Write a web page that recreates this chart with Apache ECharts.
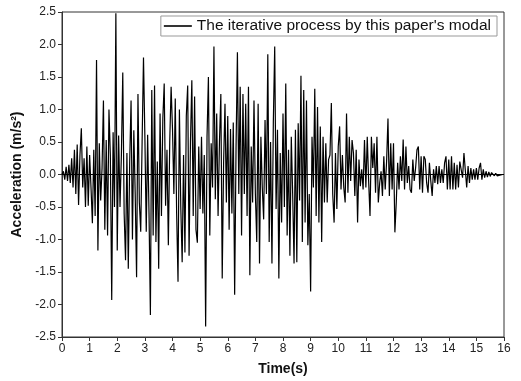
<!DOCTYPE html>
<html>
<head>
<meta charset="utf-8">
<script src="https://cdn.jsdelivr.net/npm/echarts@6/dist/echarts.min.js"></script>
<style>html,body{margin:0;padding:0;background:#fff}#c{width:521px;height:381px}</style>
</head>
<body>
<div id="c"></div>
<script>
// sampling step of the record (s)
const timeStep = 0.05;
// acceleration (m/s^2), 0 s - 3.95 s
const accel0to4 = [
  0, 0.05, -0.08, 0.12, -0.1, 0.15, -0.13, 0.25, -0.2, 0.38, -0.3, 0.46, -0.47, 0.3, 0.71, -0.2, 0.25, -0.5, 0.43, -0.48,
  0.3, -0.2, -0.75, 0.38, -0.64, 1.76, -1.17, 0.48, -0.4, 0.1, 1.14, -0.85, 0.53, -0.94, 1.0, 0.3, -1.93, 0.65, -0.5, 2.48,
  -1.17, 0.6, -0.5, 0.3, 1.57, -0.6, -1.32, 0.33, -1.45, 0.18, 1.14, -1.0, 0.68, -0.3, -1.58, 1.24, -0.43, -0.88, 0.5, 1.8,
  0.58, -0.88, 0.61, -0.6, -2.16, 1.3, -0.94, 1.37, -1.04, 0.2, -1.45, 0.94, -0.64, 0.86, 1.4, -0.48, 0.38, -1.09, 0.5, 1.35
];
// 4 s - 7.95 s
const accel4to8 = [
  0.7, -0.3, 1.17, -0.6, -1.65, 1.0, -0.5, -1.35, 0.3, -1.2, 0.9, 1.37, -1.25, 0.5, 1.45, -0.64, 1.2, -0.85, -1.05, 0.43,
  -0.53, 0.58, -0.6, 0.3, -2.34, 0.58, 1.5, -0.94, 0.48, -0.2, 1.97, -0.38, 0.94, -0.64, 0.5, 1.24, -1.6, 0.18, 1.09, -0.43,
  0.9, -0.85, 0.7, -0.6, 0.8, -1.85, 0.4, 1.88, -0.3, 1.35, -0.94, 1.24, -0.3, 1.09, -0.64, 1.35, -1.55, 0.43, -0.43, 1.14,
  -0.3, -1.04, 1.09, -1.37, 0.58, -0.2, -0.69, 0.84, -0.3, 1.85, -1.04, 0.5, -1.37, 0.8, 1.97, -0.53, 0.69, -1.6, 0.33, -0.74
];
// 8 s - 11.95 s
const accel8to12 = [
  0.94, -0.5, 1.4, -0.94, 0.38, -1.25, 0.58, -0.3, -1.37, 0.69, -1.35, 0.79, -0.4, 1.52, -1.04, 1.3, -0.74, 1.14, -1.09, -0.3,
  -1.8, 0.58, -0.2, 1.32, -0.64, 1.04, -0.74, 0.74, -1.04, 0.58, -0.43, 0.48, -0.43, 0.23, 0.3, 1.1, -0.3, -0.74, 0.33, -0.53,
  0.43, 0.74, -0.23, 0.3, -0.2, -0.43, 0.94, -0.28, 0.58, -0.1, 0.53, 0.33, -0.33, 0.38, -0.74, 0.23, -0.18, 0.08, -0.23, 0.53,
  -0.2, 0.58, -0.1, -0.64, 0.58, 0.1, 0.48, -0.28, 0.58, -0.43, -0.13, 0.05, -0.33, 0.28, -0.23, 0.2, 0.86, -0.33, 0.48, -0.23
];
// 12 s - 16 s
const accel12to16 = [
  0.48, -0.89, -0.43, 0.18, -0.23, 0.28, -0.1, 0.54, -0.23, 0.43, -0.13, 0.13, -0.23, -0.28, 0.23, -0.1, 0.1, 0.38, 0.43, -0.23,
  0.28, -0.28, 0.28, 0.23, -0.13, -0.28, 0.18, -0.1, -0.33, 0.08, -0.13, 0.13, -0.15, 0.13, -0.13, 0.08, -0.13, 0.18, 0.28, -0.23,
  0.23, -0.23, 0.28, -0.23, 0.18, -0.23, 0.15, -0.2, 0.2, 0.18, -0.05, 0.33, 0.36, -0.2, 0.13, -0.13, 0.1, -0.08, 0.08, -0.08,
  0.1, -0.08, 0.1, 0.18, -0.08, 0.08, -0.05, 0.05, -0.04, 0.04, -0.03, 0.03, 0.02, -0.02, 0.02, -0.02, 0.01, -0.01, 0.01, 0, 0
];
const seriesName = "The iterative process by this paper's modal";
const xTicks = {min: 0, max: 16, interval: 1};
const yTicks = {min: -2.5, max: 2.5, interval: 0.5};

const accel = [].concat(accel0to4, accel4to8, accel8to12, accel12to16);
const points = accel.map((v, i) => [Math.round(i * timeStep * 100) / 100, v]);

const font = 'Arial, "Liberation Sans", sans-serif';
const chart = echarts.init(document.getElementById('c'), null, {renderer: 'canvas'});
chart.setOption({
  animation: false,
  backgroundColor: '#fff',
  textStyle: {fontFamily: font},
  grid: {left: 62, right: 17, top: 12, bottom: 40, show: true, borderColor: '#333', borderWidth: 1, backgroundColor: 'transparent'},
  legend: {
    right: 24, top: 16, padding: [2, 6, 2, 3],
    borderColor: '#999', borderWidth: 1, backgroundColor: '#fff',
    icon: 'rect', itemWidth: 28, itemHeight: 1.6, itemGap: 4,
    textStyle: {fontFamily: font, fontSize: 15.5, color: '#111'},
    data: [seriesName]
  },
  xAxis: {
    type: 'value', min: xTicks.min, max: xTicks.max, interval: xTicks.interval,
    name: 'Time(s)', nameLocation: 'middle', nameGap: 25,
    nameTextStyle: {fontFamily: font, fontSize: 14, fontWeight: 'bold', color: '#111'},
    axisLine: {show: true, onZero: false, lineStyle: {color: '#333', width: 1}},
    axisTick: {show: true, inside: false, length: 4, lineStyle: {color: '#333'}},
    axisLabel: {fontFamily: font, fontSize: 12, color: '#222', margin: 6},
    splitLine: {show: false}
  },
  yAxis: {
    type: 'value', min: yTicks.min, max: yTicks.max, interval: yTicks.interval,
    name: 'Acceleration (m/s²)', nameLocation: 'middle', nameGap: 35, nameRotate: 90,
    nameTextStyle: {fontFamily: font, fontSize: 14, fontWeight: 'bold', color: '#111'},
    axisLine: {show: true, onZero: false, lineStyle: {color: '#333', width: 1}},
    axisTick: {show: true, inside: false, length: 4, lineStyle: {color: '#333'}},
    axisLabel: {fontFamily: font, fontSize: 12, color: '#222', margin: 6, formatter: v => v.toFixed(1)},
    splitLine: {show: false}
  },
  series: [{
    name: seriesName,
    type: 'line',
    data: points,
    symbol: 'none',
    showSymbol: false,
    lineStyle: {color: '#000', width: 1.2},
    itemStyle: {color: '#000'},
    markLine: {
      silent: true, symbol: 'none', label: {show: false},
      lineStyle: {color: '#000', width: 1, type: 'solid'},
      data: [{yAxis: 0}]
    }
  }]
});
</script>
</body>
</html>
